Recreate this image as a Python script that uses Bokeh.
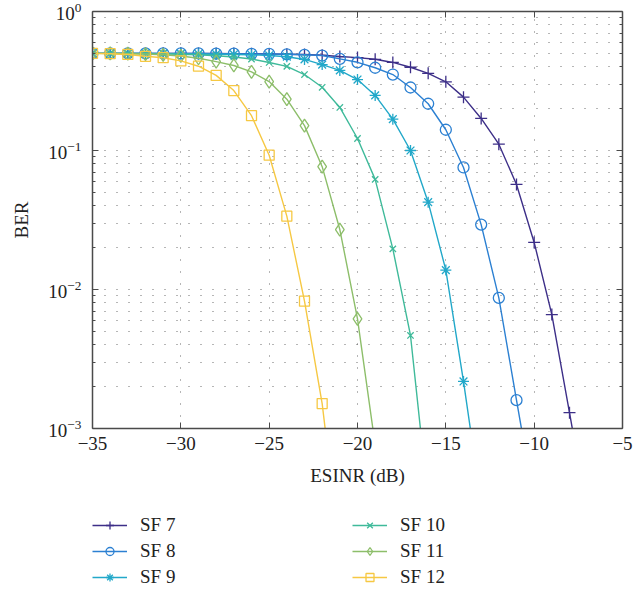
from bokeh.plotting import figure
from bokeh.layouts import column
from bokeh.models import LinearAxis, LogAxis, FixedTicker, Legend, LegendItem, Range1d
from bokeh.embed import file_html
from bokeh.resources import INLINE

FONT = "Liberation Serif"

# ---------------- data ----------------
labels = ["SF 7", "SF 8", "SF 9", "SF 10", "SF 11", "SF 12"]
colors = ["#3d2f88", "#2c80d2", "#22a8c9", "#3fba9a", "#8dbe6a", "#f6c843"]
markers = ["cross", "circle", "asterisk", "x", "diamond", "square"]
marker_sizes = [12, 11, 11, 9, 13, 10]

x_sf7 = list(range(-35, -6))
ber_sf7 = [0.5, 0.5, 0.5, 0.5, 0.5, 0.5, 0.499, 0.499, 0.498, 0.497, 0.495, 0.493,
           0.49, 0.484, 0.474, 0.466, 0.453, 0.43, 0.397, 0.359, 0.312, 0.242,
           0.170, 0.111, 0.057, 0.0218, 0.0066, 0.0013, 0.00025]

x_sf8 = list(range(-35, -9))
ber_sf8 = [0.5, 0.5, 0.5, 0.5, 0.5, 0.499, 0.499, 0.498, 0.497, 0.496, 0.495, 0.492,
           0.488, 0.482, 0.456, 0.431, 0.394, 0.352, 0.284, 0.217, 0.141, 0.0755,
           0.0293, 0.0087, 0.0016, 0.0003]

x_sf9 = list(range(-35, -12))
ber_sf9 = [0.5, 0.5, 0.5, 0.499, 0.498, 0.497, 0.495, 0.493, 0.491, 0.488, 0.483,
           0.473, 0.452, 0.415, 0.377, 0.324, 0.249, 0.168, 0.100, 0.0425, 0.0138,
           0.00218, 0.00029]

x_sf10 = list(range(-35, -15))
ber_sf10 = [0.5, 0.5, 0.499, 0.498, 0.496, 0.493, 0.488, 0.481, 0.471, 0.455, 0.43,
            0.403, 0.352, 0.285, 0.204, 0.122, 0.062, 0.0196, 0.00467, 0.0003]

x_sf11 = list(range(-35, -18))
ber_sf11 = [0.5, 0.499, 0.497, 0.494, 0.488, 0.479, 0.461, 0.436, 0.409, 0.368,
            0.313, 0.234, 0.151, 0.0765, 0.027, 0.00615, 0.00076]

x_sf12 = list(range(-35, -20))
ber_sf12 = [0.5, 0.497, 0.491, 0.476, 0.465, 0.441, 0.404, 0.347, 0.27, 0.178,
            0.0925, 0.0337, 0.00824, 0.00151, 0.00013]

xs = [x_sf7, x_sf8, x_sf9, x_sf10, x_sf11, x_sf12]
ys = [ber_sf7, ber_sf8, ber_sf9, ber_sf10, ber_sf11, ber_sf12]

x_ticks = [-35, -30, -25, -20, -15, -10, -5]
x_tick_labels = ["\u221235", "\u221230", "\u221225", "\u221220", "\u221215", "\u221210", "\u22125"]
y_ticks = [1e-3, 1e-2, 1e-1, 1.0]
y_minor = [m * 10.0 ** k for k in (-3, -2, -1) for m in range(2, 10)]

# ---------------- main chart ----------------
p = figure(width=636, height=496, x_range=(-35, -5), y_range=(1e-3, 1),
           y_axis_type="log", output_backend="svg", toolbar_location=None,
           min_border_left=92, min_border_right=14, min_border_top=11,
           min_border_bottom=68)
p.outline_line_color = None
p.background_fill_color = "white"

bx = p.below[0]
ly = p.left[0]

xt = FixedTicker(ticks=x_ticks)
yt = FixedTicker(ticks=y_ticks, minor_ticks=y_minor)

bx.ticker = xt
ly.ticker = yt
bx.major_label_overrides = {t: l for t, l in zip(x_ticks, x_tick_labels)}

top = LinearAxis(ticker=xt, major_label_text_font_size="1px",
                 major_label_text_color=None, major_label_standoff=0)
right = LogAxis(ticker=yt, major_label_text_font_size="1px",
                major_label_text_color=None, major_label_standoff=0)
p.add_layout(top, "above")
p.add_layout(right, "right")

AX = "#4a4a4a"
for ax in [bx, ly, top, right]:
    ax.axis_line_color = AX
    ax.axis_line_width = 1.5
    ax.major_tick_line_color = AX
    ax.minor_tick_line_color = AX
    ax.major_tick_in = 6
    ax.major_tick_out = 0
    ax.minor_tick_in = 3
    ax.minor_tick_out = 0
    ax.major_label_text_font = FONT
    ax.axis_label_text_font = FONT
    ax.axis_label_text_font_style = "normal"
    ax.axis_label_text_font_size = "19px"
    ax.axis_label_text_color = "#222222"
for ax in [bx, top]:
    ax.minor_tick_line_color = None
for ax in [bx, ly]:
    ax.major_label_text_font_size = "19px"
    ax.major_label_text_color = "#222222"
bx.major_label_standoff = 8
ly.major_label_standoff = 11
bx.axis_label = "ESINR (dB)"
ly.axis_label = "BER"
bx.axis_label_standoff = 12
ly.axis_label_standoff = 13

GRID = "#4a4a4a"
p.xgrid.grid_line_color = GRID
p.xgrid.grid_line_dash = "1 11"
p.xgrid.grid_line_alpha = 0.8
p.ygrid.grid_line_color = GRID
p.ygrid.grid_line_dash = "1 11"
p.ygrid.grid_line_alpha = 0.8
p.ygrid.minor_grid_line_color = GRID
p.ygrid.minor_grid_line_dash = "1 11"
p.ygrid.minor_grid_line_alpha = 0.8

for c, m, ms, x, y in zip(colors, markers, marker_sizes, xs, ys):
    p.line(x, y, line_color=c, line_width=1.4)
    p.scatter(x, y, marker=m, size=ms, line_color=c, fill_color=None, line_width=1.3)

# ---------------- legend strip (same series, legend only) ----------------
q = figure(width=636, height=97, x_range=Range1d(0, 1), y_range=Range1d(0, 1),
           output_backend="svg", toolbar_location=None,
           x_axis_location=None, y_axis_location=None,
           min_border_left=91, min_border_right=0, min_border_top=18,
           min_border_bottom=0)
q.outline_line_color = None
q.xgrid.visible = False
q.ygrid.visible = False

items = []
for lab, c, m, ms, x, y in zip(labels, colors, markers, marker_sizes, xs, ys):
    lr = q.line(x, y, line_color=c, line_width=1.4)
    sr = q.scatter(x, y, marker=m, size=ms - 2, line_color=c, fill_color=None,
                   line_width=1.3)
    items.append(LegendItem(label=lab, renderers=[lr, sr]))

legend = Legend(items=items, location="top_left", orientation="vertical", nrows=3,
                glyph_width=35, glyph_height=20, label_height=20, label_width=208,
                label_standoff=13, spacing=4, padding=0, margin=0,
                border_line_color=None, background_fill_alpha=0,
                label_text_font=FONT, label_text_font_size="19px",
                label_text_color="#222222")
q.add_layout(legend)

layout = column(p, q, spacing=0)
open("out.html", "w").write(file_html(layout, INLINE))
